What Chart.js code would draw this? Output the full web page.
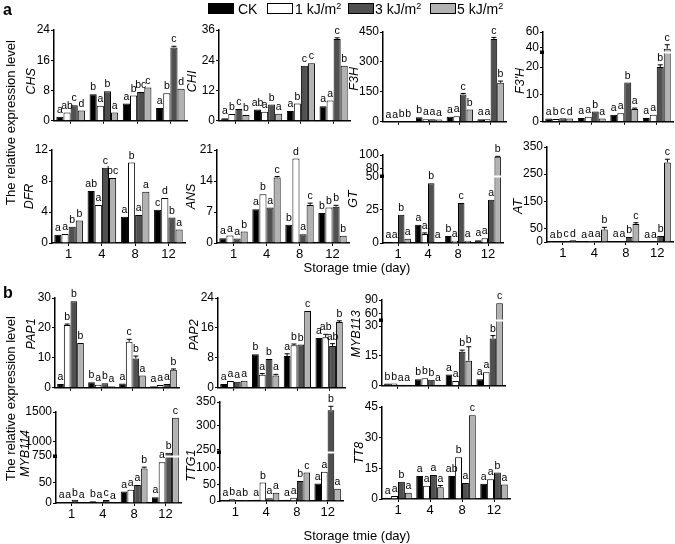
<!DOCTYPE html>
<html><head><meta charset="utf-8">
<script src="https://cdn.jsdelivr.net/npm/chart.js@4/dist/chart.umd.min.js"></script>
<style>
html,body{margin:0;padding:0;background:#fff;}
body{width:675px;height:544px;position:relative;overflow:hidden;font-family:"Liberation Sans",Arial,sans-serif;color:#000;}
.t{position:absolute;white-space:nowrap;line-height:1;}
.sw{position:absolute;border:1px solid #000;box-sizing:border-box;}
</style></head><body>
<script>
// ---------- DATA ----------
const days = ['1', '4', '8', '12'];
const seriesNames = ['CK', '1 kJ/m²', '3 kJ/m²', '5 kJ/m²'];
// each panel: [CK, 1kJ, 3kJ, 5kJ], each over days 1,4,8,12
const CHS_vals = [[1.1,7.0,4.6,3.4],[2.2,4.0,6.7,7.3],[4.1,7.8,7.6,19.4],[2.7,2.2,8.8,8.5]];
const CHS_letters = [['a','b','a','a'],['ab','a','b','b'],['c','b','bc','c'],['d','a','c','d']];
const CHS_err = [[0,0,0,0],[0,0,0,0],[0,0,0,0.3],[0,0,0,0]];
const CHS_ticks = [0,8,16,24];

const CHI_vals = [[1.0,4.5,3.9,5.8],[2.7,3.6,6.9,8.0],[4.7,6.5,21.8,32.4],[2.3,2.8,22.8,21.8]];
const CHI_letters = [['a','ab','a','a'],['b','a','b','a'],['c','b','c','c'],['b','a','c','b']];
const CHI_err = [[0,0,0,0],[0,0,0,0],[0,0,0,0.5],[0,0,0,0]];
const CHI_ticks = [0,12,24,36];

const F3H_vals = [[1,23,25,13],[2,13,28,13],[4,13,137,415],[4,12,62,196]];
const F3H_letters = [['a','b','a','a'],['a','a','a','a'],['b','a','c','c'],['b','a','b','b']];
const F3H_err = [[0,0,0,0],[0,0,0,0],[0,0,5,8],[0,0,0,8]];
const F3H_ticks = [0,150,300,450];

const F3pH_vals = [[1.2,1.4,2.6,1.4],[1.0,1.8,3.1,2.6],[1.3,3.8,14.3,20.0],[1.2,1.2,4.7,38.8]];
const F3pH_letters = [['a','a','a','a'],['b','a','a','a'],['c','b','b','b'],['d','a','a','c']];
const F3pH_err = [[0,0,0,0],[0,0,0,0],[0,0,0,0.8],[0,0,0.3,5]];
const F3pH_ticks = [0,10,20,40,60];

const DFR_vals = [[1.07,6.7,3.4,4.3],[1.15,4.9,10.4,5.8],[2.1,9.7,3.6,3.3],[2.9,8.4,6.6,1.75]];
const DFR_letters = [['a','ab','a','c'],['a','a','b','d'],['b','c','a','b'],['b','bc','a','a']];
const DFR_err = [[0,0,0,0],[0,0,0,0],[0,0,0,0],[0,0,0,0]];
const DFR_ticks = [0,4,8,12];

const ANS_vals = [[1.1,7.6,4.1,6.75],[1.7,11.0,19.1,8.0],[1.0,8.0,2.0,8.2],[2.6,14.8,8.6,1.65]];
const ANS_letters = [['a','a','b','b'],['a','b','d','b'],['a','a','a','b'],['b','c','c','b']];
const ANS_err = [[0,0,0,0],[0,0,0,0],[0,0,0,0.3],[0,0.2,0.4,0]];
const ANS_ticks = [0,7,14,21];

const GT_vals = [[1.0,13.8,5.3,2.0],[0.8,6.8,1.7,3.5],[21.2,45,30.2,32.5],[3.2,0.8,1.7,97.5]];
const GT_letters = [['a','a','b','a'],['a','a','a','a'],['b','b','c','a'],['a','a','a','b']];
const GT_err = [[0,0,0,0],[0,0.8,0,0],[0,0,0,0],[0,0,0,0.5]];
const GT_ticks = [0,25,50,80,100];

const AT_vals = [[0.5,1,4,1],[2,4,3,2],[3,3,18,22],[6,46,66,293]];
const AT_letters = [['a','a','a','a'],['b','a','a','a'],['c','a','b','b'],['d','b','c','c']];
const AT_err = [[0,0,0,0],[0,0,0,0],[0,0,0,0],[0,8,5,12]];
const AT_ticks = [0,50,150,250,350];

const PAP1_vals = [[1.3,1.85,1.4,0.55],[21.0,1.0,15.4,0.9],[28.9,1.5,9.8,1.3],[15.0,0.5,4.1,6.0]];
const PAP1_letters = [['a','b','a','a'],['b','a','c','a'],['b','b','b','a'],['b','a','a','b']];
const PAP1_err = [[0,0,0,0],[0.3,0,0.8,0],[0,0,0.8,0],[0,0,0,0.3]];
const PAP1_ticks = [0,10,20,30];

const PAP2_vals = [[1.0,9.0,8.5,13.3],[1.85,3.5,11.4,13.5],[1.65,7.7,11.6,11.2],[1.9,3.3,20.5,17.6]];
const PAP2_letters = [['a','b','a','a'],['a','a','b','ab'],['a','b','b','ab'],['a','a','c','b']];
const PAP2_err = [[0,0,0.6,0],[0,0.3,0.3,0.8],[0,0,0,0.6],[0,0.3,0,0.3]];
const PAP2_ticks = [0,8,16,24];

const MYB113_vals = [[1.1,3.3,5.7,3.3],[1.1,3.75,2.4,6.85],[0.5,3.1,17.1,23.7],[0.5,0.5,12.6,83]];
const MYB113_letters = [['b','b','a','a'],['b','b','a','a'],['a','b','b','b'],['a','a','b','c']];
const MYB113_err = [[0,0,0,0],[0,0,0,0],[0,0,0.8,1.5],[0,0,7,0]];
const MYB113_ticks = [0,15,30,60,90];

const MYB114_vals = [[1.6,4,28,14],[1.6,3,32,99],[8,7,44,807],[1.6,1,84,1404]];
const MYB114_letters = [['a','b','a','a'],['a','a','a','a'],['b','c','a','b'],['a','a','b','c']];
const MYB114_err = [[0,0,0,0],[0,0,0,0],[0,0,0,0],[0,0,3,0]];
const MYB114_ticks = [0,50,750,1000,1500];

const TTG1_vals = [[3,4,4,53],[5,56,10,88],[3,8,60,333],[3,25,86,37]];
const TTG1_letters = [['a','a','a','a'],['b','b','a','a'],['a','a','b','b'],['b','a','c','a']];
const TTG1_err = [[0,0,0,0],[0,0,0,0],[0,0,0,8],[0,0,0,0]];
const TTG1_ticks = [0,50,100,250,300,350];

const TT8_vals = [[0.65,11.3,11.3,7.5],[1.5,6.5,20.4,9.7],[8.4,11.7,7.8,13],[3.1,5.8,41,7.1]];
const TT8_letters = [['a','a','ab','a'],['a','a','b','a'],['b','a','a','b'],['a','a','c','a']];
const TT8_err = [[0,0,0,0],[0,0,0,0],[0,0,0,0],[0,0.8,0,0]];
const TT8_ticks = [0,15,30,45];

// ---------- LAYOUT / STYLE ----------
const FONT = "'Liberation Sans', Arial, sans-serif";
const COLORS = ['#000000', '#ffffff', '#505050', '#b2b2b2'];
function lin(ticks){ return [[0,0],[ticks[ticks.length-1],1]]; }
const panels = [
  {gene:'CHS', v:CHS_vals, l:CHS_letters, e:CHS_err, ticks:CHS_ticks, map:lin(CHS_ticks), L:54, R:187, T:30, Z:123, xl:false, gx:22, gy:6},
  {gene:'CHI', v:CHI_vals, l:CHI_letters, e:CHI_err, ticks:CHI_ticks, map:lin(CHI_ticks), L:219, R:350, T:30, Z:123, xl:false, gx:26, gy:6},
  {gene:'F3H', v:F3H_vals, l:F3H_letters, e:F3H_err, ticks:F3H_ticks, map:lin(F3H_ticks), L:383, R:506, T:32, Z:124, xl:false, gx:28, gy:2},
  {gene:"F3'H", v:F3pH_vals, l:F3pH_letters, e:F3pH_err, ticks:F3pH_ticks, map:[[0,0],[25.5,0.778],[34.6,0.778],[60,1]], brk:25.5, L:543, R:673, T:32, Z:124, xl:false, gx:22, gy:4},
  {gene:'DFR', v:DFR_vals, l:DFR_letters, e:DFR_err, ticks:DFR_ticks, map:lin(DFR_ticks), L:52, R:185, T:150, Z:243, xl:true, gx:22, gy:0},
  {gene:'ANS', v:ANS_vals, l:ANS_letters, e:ANS_err, ticks:ANS_ticks, map:lin(ANS_ticks), L:217, R:349, T:150, Z:243, xl:true, gx:25, gy:0},
  {gene:'GT', v:GT_vals, l:GT_letters, e:GT_err, ticks:GT_ticks, map:[[0,0],[50.8,0.766],[69,0.766],[100,1]], brk:50.8, L:383, R:503, T:155, Z:243, xl:true, gx:29, gy:0},
  {gene:'AT', v:AT_vals, l:AT_letters, e:AT_err, ticks:AT_ticks, map:lin(AT_ticks), L:547, R:673, T:147, Z:242, xl:true, gx:28, gy:12},
  {gene:'PAP1', v:PAP1_vals, l:PAP1_letters, e:PAP1_err, ticks:PAP1_ticks, map:lin(PAP1_ticks), L:55, R:179, T:298, Z:390, xl:false, gx:23, gy:-9},
  {gene:'PAP2', v:PAP2_vals, l:PAP2_letters, e:PAP2_err, ticks:PAP2_ticks, map:lin(PAP2_ticks), L:218, R:345, T:298, Z:390, xl:false, gx:23, gy:-8},
  {gene:'MYB113', v:MYB113_vals, l:MYB113_letters, e:MYB113_err, ticks:MYB113_ticks, map:[[0,0],[33,0.766],[46.7,0.766],[90,1]], brk:33, L:382, R:505, T:300, Z:388, xl:false, gx:25, gy:-9},
  {gene:'MYB114', v:MYB114_vals, l:MYB114_letters, e:MYB114_err, ticks:MYB114_ticks, map:[[0,0],[114,0.516],[750,0.516],[1500,1]], brk:114, L:56, R:181, T:412, Z:503, xl:true, gx:30, gy:-4},
  {gene:'TTG1', v:TTG1_vals, l:TTG1_letters, e:TTG1_err, ticks:TTG1_ticks, map:[[0,0],[148,0.497],[246,0.497],[350,1]], brk:148, L:220, R:343, T:402, Z:501, xl:true, gx:28, gy:14},
  {gene:'TT8', v:TT8_vals, l:TT8_letters, e:TT8_err, ticks:TT8_ticks, map:lin(TT8_ticks), L:382, R:510, T:407, Z:499, xl:true, gx:22, gy:0}
];

// ---------- piecewise (broken) value scale ----------
const PANELS = new Map();
function interp(v, map){
  for (let i = 1; i < map.length; i++){
    if (v <= map[i][0] || i === map.length - 1){
      const x0 = map[i-1][0], f0 = map[i-1][1], x1 = map[i][0], f1 = map[i][1];
      if (x1 === x0) return f1;
      return f0 + (v - x0) * (f1 - f0) / (x1 - x0);
    }
  }
  return 0;
}
class BrokenScale extends Chart.LinearScale {
  buildTicks(){
    const p = PANELS.get(this.chart.canvas);
    return p.ticks.map(v => ({value: v}));
  }
  getPixelForValue(value){
    const p = PANELS.get(this.chart.canvas);
    const f = interp(value, p.map);
    return this.bottom - f * (this.bottom - this.top);
  }
  getValueForPixel(pixel){
    const p = PANELS.get(this.chart.canvas);
    const f = (this.bottom - pixel) / (this.bottom - this.top);
    const m = p.map;
    for (let i = 1; i < m.length; i++){
      if (f <= m[i][1] || i === m.length - 1){
        if (m[i][1] === m[i-1][1]) return m[i][0];
        return m[i-1][0] + (f - m[i-1][1]) * (m[i][0] - m[i-1][0]) / (m[i][1] - m[i-1][1]);
      }
    }
    return 0;
  }
}
BrokenScale.id = 'broken';
BrokenScale.defaults = {};
Chart.register(BrokenScale);

function decor(p){
  return {
    id: 'decor',
    afterDatasetsDraw(chart){
      const ctx = chart.ctx, ys = chart.scales.y, ca = chart.chartArea;
      ctx.save();
      if (p.brk != null){
        const yb = Math.round(ys.getPixelForValue(p.brk)) + 0.5;
        ctx.strokeStyle = '#fff'; ctx.lineWidth = 2;
        ctx.beginPath(); ctx.moveTo(ca.left + 2, yb); ctx.lineTo(ca.right, yb); ctx.stroke();
        ctx.fillStyle = '#000';
        ctx.fillRect(ca.left - 3, yb - 2, 4, 3.5);
      }
      ctx.font = '10.5px ' + FONT;
      ctx.textAlign = 'center'; ctx.textBaseline = 'bottom';
      chart.data.datasets.forEach((ds, si) => {
        const meta = chart.getDatasetMeta(si);
        meta.data.forEach((bar, i) => {
          const v = ds.data[i];
          const e = p.e[si][i];
          let top = bar.y;
          if (e > 0){
            const ye = ys.getPixelForValue(v + e);
            ctx.strokeStyle = '#000'; ctx.lineWidth = 1;
            ctx.beginPath();
            ctx.moveTo(bar.x, bar.y); ctx.lineTo(bar.x, ye);
            ctx.moveTo(bar.x - 2.5, ye); ctx.lineTo(bar.x + 2.5, ye);
            ctx.stroke();
            top = ye;
          }
          ctx.fillStyle = '#000';
          ctx.fillText(p.l[si][i], bar.x, top - 1.5);
        });
      });
      ctx.translate(ca.left - p.gx, (ca.top + ca.bottom) / 2 + p.gy);
      ctx.rotate(-Math.PI / 2);
      ctx.font = 'italic 12.5px ' + FONT;
      ctx.textBaseline = 'middle';
      ctx.fillText(p.gene, 0, 0);
      ctx.restore();
    }
  };
}

function makePanel(p){
  const YW = 48, PT = 16, PR = 4, XH = p.xl ? 22 : 6;
  const W = (p.R - p.L) + YW + PR;
  const H = (p.Z - p.T) + PT + XH;
  const c = document.createElement('canvas');
  c.width = W; c.height = H;
  c.style.cssText = 'position:absolute;left:' + (p.L - YW) + 'px;top:' + (p.T - PT) + 'px;width:' + W + 'px;height:' + H + 'px;';
  document.body.appendChild(c);
  PANELS.set(c, p);
  new Chart(c, {
    type: 'bar',
    data: {
      labels: days,
      datasets: p.v.map((d, si) => ({
        label: seriesNames[si], data: d,
        backgroundColor: COLORS[si], borderColor: '#000', borderWidth: 1,
        barPercentage: 1, categoryPercentage: 0.86
      }))
    },
    options: {
      responsive: false, animation: false, devicePixelRatio: 1,
      layout: {padding: {left: 0, right: PR, top: PT, bottom: 0}},
      plugins: {legend: {display: false}, tooltip: {enabled: false}},
      scales: {
        x: {
          type: 'category', offset: true,
          grid: {display: true, drawOnChartArea: false, offset: false, tickLength: 3, color: '#000', lineWidth: 1},
          border: {display: true, color: '#000', width: 1.5},
          ticks: {display: p.xl, color: '#000', font: {family: FONT, size: 13}, padding: 1, maxRotation: 0, autoSkip: false},
          afterFit: s => { s.height = XH; }
        },
        y: {
          type: 'broken', min: 0, max: p.ticks[p.ticks.length - 1],
          grid: {display: true, drawOnChartArea: false, tickLength: 3, color: '#000', lineWidth: 1},
          border: {display: true, color: '#000', width: 1.5},
          ticks: {color: '#000', font: {family: FONT, size: 12}, padding: 1, autoSkip: false, callback: v => String(v)},
          afterFit: s => { s.width = YW; }
        }
      }
    },
    plugins: [decor(p)]
  });
}
panels.forEach(makePanel);

// ---------- texts ----------
function addText(html, css){
  const d = document.createElement('div');
  d.className = 't'; d.innerHTML = html; d.style.cssText += css;
  document.body.appendChild(d);
  return d;
}
addText('a', 'left:3px;top:2px;font-weight:bold;font-size:16px;');
addText('b', 'left:3px;top:285px;font-weight:bold;font-size:16px;');
// legend
const swX = [208, 267, 348, 430];
const txX = [238, 295, 375, 457];
seriesNames.forEach((n, i) => {
  const s = document.createElement('div');
  s.className = 'sw';
  s.style.cssText += 'left:' + swX[i] + 'px;top:3px;width:26px;height:11px;background:' + COLORS[i] + ';';
  document.body.appendChild(s);
  const parts = n.split('²');
  const html = parts.length > 1 ? parts[0] + '<span style="font-size:9px;position:relative;top:-5px;">2</span>' : n;
  addText(html, 'left:' + txX[i] + 'px;top:2px;font-size:14px;');
});
// y axis titles
function vText(txt, cx, cy){
  const d = addText(txt, 'font-size:13px;');
  const w = d.offsetWidth, h = d.offsetHeight;
  d.style.left = (cx - w / 2) + 'px';
  d.style.top = (cy - h / 2) + 'px';
  d.style.transform = 'rotate(-90deg)';
}
vText('The relative expression level', 10, 122);
vText('The relative expression level', 10, 398);
// x axis titles
function hText(txt, cx, top){
  const d = addText(txt, 'font-size:13px;top:' + top + 'px;');
  d.style.left = (cx - d.offsetWidth / 2) + 'px';
}
hText('Storage tmie (day)', 357, 261);
hText('Storage tmie (day)', 357, 529);
</script>
</body></html>
